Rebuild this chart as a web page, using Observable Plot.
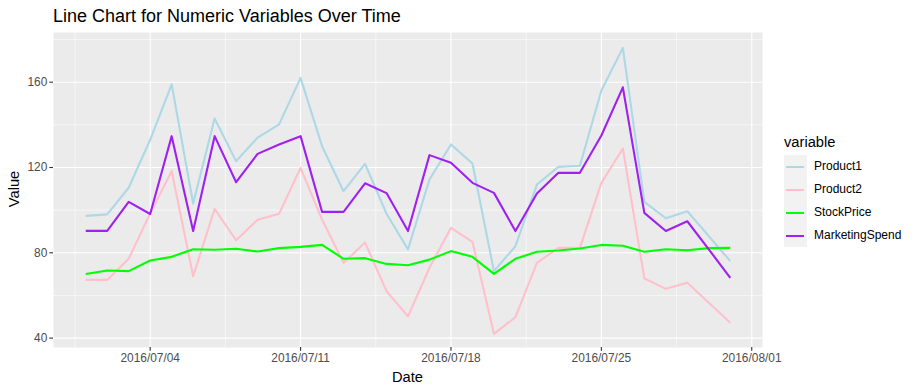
<!DOCTYPE html>
<html>
<head>
<meta charset="utf-8">
<script src="https://cdn.jsdelivr.net/npm/d3@7"></script>
<script src="https://cdn.jsdelivr.net/npm/@observablehq/plot@0.6"></script>
<style>
  html, body { margin: 0; padding: 0; background: #ffffff; }
  #wrap { position: relative; width: 918px; height: 392px; font-family: "Liberation Sans", Arial, sans-serif; }
  #wrap svg { position: absolute; left: 0; top: 0; }
  .txt { position: absolute; white-space: nowrap; line-height: 1; }
</style>
</head>
<body>
<div id="wrap"></div>
<script>
// ---- data ----
const dates = [
  "2016-07-01","2016-07-02","2016-07-03","2016-07-04","2016-07-05","2016-07-06","2016-07-07",
  "2016-07-08","2016-07-09","2016-07-10","2016-07-11","2016-07-12","2016-07-13","2016-07-14",
  "2016-07-15","2016-07-16","2016-07-17","2016-07-18","2016-07-19","2016-07-20","2016-07-21",
  "2016-07-22","2016-07-23","2016-07-24","2016-07-25","2016-07-26","2016-07-27","2016-07-28",
  "2016-07-29","2016-07-30","2016-07-31"
];
const product1 = [97.3, 98, 110.5, 133, 159, 103.1, 143, 123, 134, 140.2, 162, 130, 108.9, 121.7, 98.3, 81.6, 114.4, 130.8, 121.9, 71.4, 83.1, 112, 120.3, 120.8, 156.1, 176.1, 103.9, 96.2, 99.5, 87.8, 76.1];
const product2 = [67.3, 67.3, 77.2, 98.5, 118.3, 69, 100.6, 85.9, 95.5, 98.3, 119.8, 95.6, 75.3, 84.8, 62, 50.2, 73, 91.7, 85.1, 42, 49.8, 75.3, 82.3, 82.3, 112.8, 128.9, 68, 63.1, 66, 56.6, 47.2];
const stockPrice = [70.1, 71.7, 71.4, 76.4, 78.1, 81.7, 81.4, 81.9, 80.6, 82.2, 82.8, 83.7, 77.2, 77.5, 74.8, 74.2, 76.8, 80.8, 78.1, 70.1, 77.2, 80.5, 81.1, 82, 83.7, 83.3, 80.5, 81.7, 81.2, 82.2, 82.3];
const marketingSpend = [90.3, 90.3, 103.9, 98.2, 134.7, 90.2, 134.7, 113.1, 126.4, 130.8, 134.7, 99.2, 99.2, 112.6, 108, 90.2, 125.8, 122.2, 112.8, 108.1, 90.2, 107.8, 117.5, 117.5, 135, 157.6, 98.7, 90.2, 94.8, 81.6, 68.3];

const seriesNames = ["Product1", "Product2", "StockPrice", "MarketingSpend"];
const seriesColors = ["#ADD8E6", "#FFC0CB", "#00FF00", "#A020F0"];
const seriesValues = [product1, product2, stockPrice, marketingSpend];

const xMajorTicks = ["2016-07-04", "2016-07-11", "2016-07-18", "2016-07-25", "2016-08-01"];
const xMinorTicks = ["2016-06-30T12:00Z", "2016-07-07T12:00Z", "2016-07-14T12:00Z", "2016-07-21T12:00Z", "2016-07-28T12:00Z"];
const yMajorTicks = [40, 80, 120, 160];
const yMinorTicks = [60, 100, 140, 180];

const titleText = "Line Chart for Numeric Variables Over Time";
const xLabel = "Date";
const yLabel = "Value";
const legendTitle = "variable";

// ---- build table ----
const parse = s => new Date(s.length === 10 ? s + "T00:00:00Z" : s);
const rows = [];
seriesNames.forEach((name, k) => {
  seriesValues[k].forEach((v, i) => rows.push({date: parse(dates[i]), value: v, variable: name}));
});

const fmt = d3.utcFormat("%Y/%m/%d");

const chart = Plot.plot({
  width: 918,
  height: 392,
  marginLeft: 53,
  marginRight: 156,
  marginTop: 32,
  marginBottom: 45,
  style: {fontFamily: "'Liberation Sans', Arial, sans-serif", background: "transparent"},
  x: {type: "utc", domain: [parse("2016-06-29T12:00Z"), parse("2016-08-01T12:00Z")]},
  y: {domain: [35.6, 183.3]},
  color: {domain: seriesNames, range: seriesColors},
  marks: [
    Plot.frame({fill: "#EBEBEB", stroke: null}),
    Plot.ruleY(yMinorTicks, {stroke: "#ffffff", strokeWidth: 0.55}),
    Plot.ruleX(xMinorTicks.map(parse), {stroke: "#ffffff", strokeWidth: 0.55}),
    Plot.ruleY(yMajorTicks, {stroke: "#ffffff", strokeWidth: 1.1}),
    Plot.ruleX(xMajorTicks.map(parse), {stroke: "#ffffff", strokeWidth: 1.1}),
    Plot.line(rows, {x: "date", y: "value", z: "variable", stroke: "variable", strokeWidth: 2.1, strokeLinejoin: "round", strokeLinecap: "butt"}),
    Plot.axisX(xMajorTicks.map(parse), {tickFormat: fmt, tickSize: 3.7, tickPadding: 2.5, fontSize: 11.9, fill: "#4D4D4D", stroke: "#333333", strokeWidth: 1.1, label: null}),
    Plot.axisY(yMajorTicks, {tickSize: 3.7, tickPadding: 2.5, fontSize: 11.9, fill: "#4D4D4D", stroke: "#333333", strokeWidth: 1.1, label: null})
  ]
});

const wrap = document.getElementById("wrap");
wrap.appendChild(chart);

function addText(text, css) {
  const d = document.createElement("div");
  d.className = "txt";
  d.textContent = text;
  Object.assign(d.style, css);
  wrap.appendChild(d);
  return d;
}

// title
addText(titleText, {left: "53px", top: "6.5px", fontSize: "18px", color: "#000"});
// axis titles
addText(xLabel, {left: "407.5px", top: "370px", fontSize: "14.7px", color: "#000", transform: "translateX(-50%)"});
addText(yLabel, {left: "14px", top: "189px", fontSize: "14.7px", color: "#000", transform: "translate(-50%,-50%) rotate(-90deg)"});

// legend
addText(legendTitle, {left: "784px", top: "135px", fontSize: "14.7px", color: "#000"});
const bg = document.createElement("div");
Object.assign(bg.style, {position: "absolute", left: "784px", top: "155px", width: "23px", height: "92px", background: "#F2F2F2"});
wrap.appendChild(bg);
seriesNames.forEach((name, k) => {
  const cy = 166.5 + k * 23;
  const ln = document.createElement("div");
  Object.assign(ln.style, {position: "absolute", left: "786px", top: (cy - 1) + "px", width: "18px", height: "2.1px", background: seriesColors[k]});
  wrap.appendChild(ln);
  addText(name, {left: "814px", top: (cy - 6.7) + "px", fontSize: "12px", color: "#000"});
});
</script>
</body>
</html>
